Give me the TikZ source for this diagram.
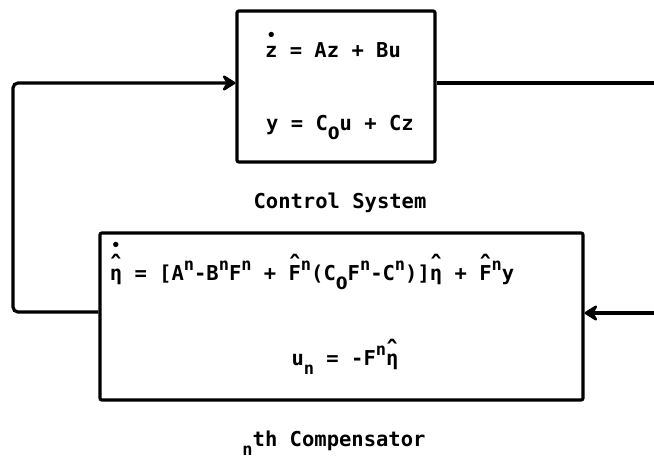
\documentclass[tikz,border=0pt]{standalone}
\usepackage{fontspec}
\setmonofont{DejaVu Sans Mono}
\newfontfamily\zerofont{DejaVu Sans}
\usepackage{graphicx}
\usetikzlibrary{arrows.meta}
\newcommand{\sP}[1]{\raisebox{0.45em}{\fontsize{17}{17}\selectfont #1}}
\newcommand{\sB}[1]{\raisebox{-0.45em}{\fontsize{17}{17}\selectfont #1}}
\newcommand{\zsub}{\raisebox{-0.45em}{\zerofont\bfseries\fontsize{17}{17}\selectfont 0}}
\newcommand{\hatmark}{\scalebox{1.3}{ˆ}}
\newcommand{\lowhat}[1]{\ooalign{#1\cr\hidewidth\raisebox{0.2em}{\hatmark}\hidewidth\cr}}
\newcommand{\caphat}[1]{\ooalign{#1\cr\hidewidth\raisebox{0.2em}{\hatmark}\hidewidth\cr}}
\newcommand{\dotz}{\ooalign{z\cr\hidewidth\raisebox{0.8em}{\fontsize{15}{15}\selectfont •}\hidewidth\cr}}
\newcommand{\etadot}{\ooalign{η\cr\hidewidth\raisebox{0.2em}{\hatmark}\hidewidth\cr\hidewidth\raisebox{1.42em}{\fontsize{15}{15}\selectfont •}\hidewidth\cr}}
\tikzset{
  blk/.style={draw, line width=3.2pt, rounded corners=2pt, inner sep=0pt},
  wire/.style={line width=3.2pt, rounded corners=5pt},
  arr/.style={-{Stealth[length=16pt,width=20pt,inset=6pt,round]}},
  txt/.style={font=\ttfamily\bfseries\fontsize{20.5}{24}\selectfont, inner sep=0pt, anchor=base}
}
\begin{document}
\begin{tikzpicture}[x=1pt,y=-1pt]
\useasboundingbox (0,0) rectangle (654,461);
% blocks
\node[blk, minimum width=198pt, minimum height=151pt] (sys) at (336,86.5) {};
\node[blk, minimum width=483pt, minimum height=167pt] (comp) at (341.5,316.5) {};
% texts
\node[txt] (e1) at (333,57) {\dotz{} = Az + Bu};
\node[txt] (e2) at (340,130) {y = C\zsub{}u + Cz};
\node[txt] (l1) at (340,208) {Control System};
\node[txt] (e3) at (312,280) {\etadot{} = [A\sP{n}-B\sP{n}F\sP{n} + \caphat{F}\sP{n}(C\zsub{}F\sP{n}-C\sP{n})]\lowhat{η} + \caphat{F}\sP{n}y};
\node[txt] (e4) at (345,365) {u\sB{n} = -F\sP{n}\lowhat{η}};
\node[txt] (l2) at (334,446) {\sB{n}th Compensator};
% connectors
\coordinate (tl) at (13,83);
\coordinate (bl) at (13,312);
\coordinate (tr) at (654,83);
\coordinate (br) at (654,313);
\draw[wire, arr] (comp.west |- bl) -- (bl) -- (tl) -- (sys.west |- tl);
\draw[wire] (sys.east |- tr) -- (tr);
\draw[wire, arr] (br) -- (comp.east |- br);
\end{tikzpicture}
\end{document}
